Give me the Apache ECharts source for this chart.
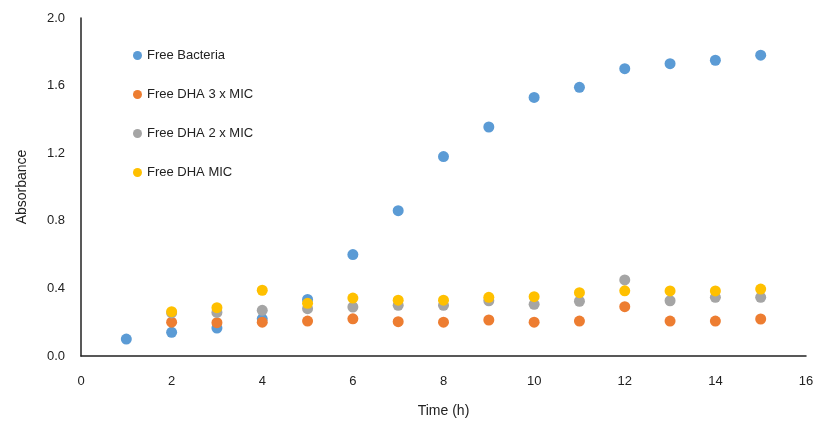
<!DOCTYPE html>
<html>
<head>
<meta charset="utf-8">
<script src="https://cdn.jsdelivr.net/npm/echarts@6/dist/echarts.min.js"></script>
<style>
  html, body { margin: 0; padding: 0; background: #fff; }
  #chart { width: 819px; height: 423px; }
</style>
</head>
<body>
<div id="chart"></div>
<script>
// Sampling times (h)
const hours = [1, 2, 3, 4, 5, 6, 7, 8, 9, 10, 11, 12, 13, 14, 15];

// Absorbance readings per condition (null = no reading)
const freeBacteria = [0.10, 0.14, 0.165, 0.22, 0.335, 0.60, 0.86, 1.18, 1.355, 1.53, 1.59, 1.70, 1.73, 1.75, 1.78];
const dha3xMIC = [null, 0.20, 0.197, 0.20, 0.207, 0.22, 0.203, 0.20, 0.213, 0.20, 0.207, 0.292, 0.207, 0.207, 0.219];
const dha2xMIC = [null, 0.255, 0.258, 0.27, 0.28, 0.29, 0.30, 0.30, 0.327, 0.306, 0.324, 0.45, 0.327, 0.347, 0.347];
const dhaMIC = [null, 0.262, 0.286, 0.389, 0.312, 0.343, 0.33, 0.33, 0.347, 0.351, 0.375, 0.386, 0.385, 0.385, 0.396];

const seriesNames = ['Free Bacteria', 'Free DHA 3 x MIC', 'Free DHA 2 x MIC', 'Free DHA MIC'];
const seriesColors = ['#5B9BD5', '#ED7D31', '#A5A5A5', '#FFC000'];
const seriesValues = [freeBacteria, dha3xMIC, dha2xMIC, dhaMIC];

const pairs = vals => hours.map((h, i) => [h, vals[i]]).filter(p => p[1] !== null);

const textFont = '"Liberation Sans", Arial, sans-serif';

const chart = echarts.init(document.getElementById('chart'), null, { renderer: 'canvas' });
chart.setOption({
  animation: false,
  backgroundColor: '#ffffff',
  grid: { left: 81, top: 18, right: 13, bottom: 67 },
  legend: {
    orient: 'vertical',
    left: 128,
    top: 44,
    itemGap: 26,
    itemWidth: 9,
    itemHeight: 9,
    icon: 'circle',
    data: seriesNames,
    textStyle: { fontFamily: textFont, fontSize: 13, color: '#222' }
  },
  xAxis: {
    type: 'value',
    min: 0,
    max: 16,
    interval: 2,
    name: 'Time (h)',
    nameLocation: 'middle',
    nameGap: 48,
    nameTextStyle: { fontFamily: textFont, fontSize: 14, color: '#222' },
    axisLine: { lineStyle: { color: '#222', width: 1.5 } },
    axisTick: { show: false },
    splitLine: { show: false },
    axisLabel: { fontFamily: textFont, fontSize: 13, color: '#222', margin: 19 }
  },
  yAxis: {
    type: 'value',
    min: 0,
    max: 2.0,
    interval: 0.4,
    name: 'Absorbance',
    nameLocation: 'middle',
    nameGap: 52,
    nameTextStyle: { fontFamily: textFont, fontSize: 14, color: '#222' },
    axisLine: { show: true, lineStyle: { color: '#222', width: 1.5 } },
    axisTick: { show: false },
    splitLine: { show: false },
    axisLabel: {
      fontFamily: textFont, fontSize: 13, color: '#222', margin: 16,
      formatter: v => v.toFixed(1)
    }
  },
  series: seriesNames.map((name, i) => ({
    name: name,
    type: 'scatter',
    symbol: 'circle',
    symbolSize: 11,
    itemStyle: { color: seriesColors[i], opacity: 1 },
    data: pairs(seriesValues[i]),
    z: 2 + i
  }))
});
</script>
</body>
</html>
